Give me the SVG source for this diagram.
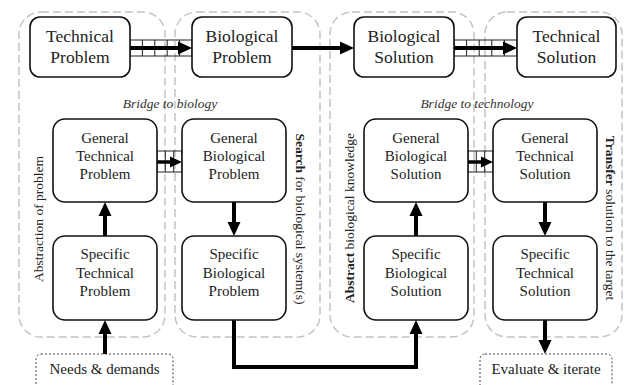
<svg xmlns="http://www.w3.org/2000/svg" width="624" height="385" viewBox="0 0 624 385" font-family="'Liberation Serif','Times New Roman',serif">
<style>
.panel{fill:none;stroke:#c4c4c4;stroke-width:1.5;stroke-dasharray:8 4}
.node{fill:#fff;stroke:#111;stroke-width:1.6}
.io{fill:#fff;stroke:#444;stroke-width:1;stroke-dasharray:2 2}
text{font-family:"Liberation Serif","Times New Roman",serif}
.t{fill:#222;text-anchor:middle}
.big{font-size:17.5px}
.sm{font-size:15px}
.lab{font-size:13.5px;fill:#222;text-anchor:middle}
.it{font-style:italic;fill:#333}
.thick{stroke:#000;stroke-width:4;fill:none}
.mid{stroke:#000;stroke-width:3.5;fill:none}
.ladder{stroke:#222;stroke-width:1;fill:none}
</style>
<defs>
<marker id="ah" markerUnits="userSpaceOnUse" markerWidth="14" markerHeight="14" refX="0" refY="7" orient="auto">
<path d="M0,0.5 L14,7 L0,13.5 z" fill="#000"/>
</marker>
<marker id="as" markerUnits="userSpaceOnUse" markerWidth="12" markerHeight="12" refX="0" refY="6" orient="auto">
<path d="M0,0.5 L12,6 L0,11.5 z" fill="#000"/>
</marker>
</defs>
<rect width="624" height="385" fill="#fff"/>

<g id="panels">
<rect class="panel" x="19" y="12" width="146" height="325" rx="22"/>
<rect class="panel" x="175" y="12" width="145" height="325" rx="22"/>
<rect class="panel" x="330" y="12" width="144" height="325" rx="22"/>
<rect class="panel" x="485" y="12" width="137" height="325" rx="22"/>
</g>

<g id="labels">
<text class="lab it" x="170" y="108">Bridge to biology</text>
<text class="lab it" x="477" y="108">Bridge to technology</text>
<text class="lab" transform="translate(43,219) rotate(-90)">Abstraction of problem</text>
<text class="lab" transform="translate(296,219) rotate(90)"><tspan font-weight="bold">Search</tspan> for biological system(s)</text>
<text class="lab" transform="translate(354,218) rotate(-90)"><tspan font-weight="bold">Abstract</tspan> biological knowledge</text>
<text class="lab" transform="translate(606,218) rotate(90)"><tspan font-weight="bold">Transfer</tspan> solution to the target</text>
</g>

<g id="connectors">
<g id="ladder1" class="ladder">
<path d="M130,40 H192 M130,56 H192 M130,40 V56 M142.4,40 V56 M154.8,40 V56 M167.2,40 V56 M179.6,40 V56 M192,40 V56"/>
</g>
<line class="thick" x1="130" y1="48" x2="178" y2="48" marker-end="url(#ah)"/>
<line class="thick" x1="292" y1="48" x2="340" y2="48" marker-end="url(#ah)"/>
<g id="ladder2" class="ladder">
<path d="M454,40 H517 M454,56 H517 M454,40 V56 M466.6,40 V56 M479.2,40 V56 M491.8,40 V56 M504.4,40 V56 M517,40 V56"/>
</g>
<line class="thick" x1="454" y1="48" x2="503" y2="48" marker-end="url(#ah)"/>
<g id="ladder3" class="ladder">
<path d="M157,151 H182 M157,172 H182 M157,151 V172 M165.3,151 V172 M173.7,151 V172 M182,151 V172"/>
</g>
<line class="mid" x1="157" y1="162" x2="170" y2="162" marker-end="url(#as)"/>
<g id="ladder4" class="ladder">
<path d="M468,151 H493 M468,172 H493 M468,151 V172 M476.3,151 V172 M484.7,151 V172 M493,151 V172"/>
</g>
<line class="mid" x1="468" y1="162" x2="481" y2="162" marker-end="url(#as)"/>
<line class="thick" x1="105" y1="236" x2="105" y2="216" marker-end="url(#ah)"/>
<line class="thick" x1="234" y1="202" x2="234" y2="222" marker-end="url(#ah)"/>
<line class="thick" x1="416" y1="236" x2="416" y2="216" marker-end="url(#ah)"/>
<line class="thick" x1="545" y1="202" x2="545" y2="222" marker-end="url(#ah)"/>
<line class="thick" x1="105" y1="354" x2="105" y2="334" marker-end="url(#ah)"/>
<line class="thick" x1="545" y1="320" x2="545" y2="340" marker-end="url(#ah)"/>
<polyline class="thick" points="234,320 234,367 416,367 416,334" marker-end="url(#ah)"/>
</g>

<g id="technical-problem">
<rect class="node" x="30" y="17" width="100" height="60" rx="10"/>
<text class="t big" x="80" y="42">Technical</text>
<text class="t big" x="80" y="63">Problem</text>
</g>
<g id="biological-problem">
<rect class="node" x="192" y="17" width="100" height="60" rx="10"/>
<text class="t big" x="242" y="42">Biological</text>
<text class="t big" x="242" y="63">Problem</text>
</g>
<g id="biological-solution">
<rect class="node" x="354" y="17" width="100" height="60" rx="10"/>
<text class="t big" x="404" y="42">Biological</text>
<text class="t big" x="404" y="63">Solution</text>
</g>
<g id="technical-solution">
<rect class="node" x="517" y="17" width="99" height="60" rx="10"/>
<text class="t big" x="566.5" y="42">Technical</text>
<text class="t big" x="566.5" y="63">Solution</text>
</g>

<g id="general-technical-problem">
<rect class="node" x="53" y="119" width="104" height="83" rx="12"/>
<text class="t sm" x="105" y="143">General</text>
<text class="t sm" x="105" y="161">Technical</text>
<text class="t sm" x="105" y="179">Problem</text>
</g>
<g id="general-biological-problem">
<rect class="node" x="182" y="119" width="104" height="83" rx="12"/>
<text class="t sm" x="234" y="143">General</text>
<text class="t sm" x="234" y="161">Biological</text>
<text class="t sm" x="234" y="179">Problem</text>
</g>
<g id="general-biological-solution">
<rect class="node" x="364" y="119" width="104" height="83" rx="12"/>
<text class="t sm" x="416" y="143">General</text>
<text class="t sm" x="416" y="161">Biological</text>
<text class="t sm" x="416" y="179">Solution</text>
</g>
<g id="general-technical-solution">
<rect class="node" x="493" y="119" width="104" height="83" rx="12"/>
<text class="t sm" x="545" y="143">General</text>
<text class="t sm" x="545" y="161">Technical</text>
<text class="t sm" x="545" y="179">Solution</text>
</g>

<g id="specific-technical-problem">
<rect class="node" x="53" y="236" width="104" height="84" rx="12"/>
<text class="t sm" x="105" y="259">Specific</text>
<text class="t sm" x="105" y="277.5">Technical</text>
<text class="t sm" x="105" y="296">Problem</text>
</g>
<g id="specific-biological-problem">
<rect class="node" x="182" y="236" width="104" height="84" rx="12"/>
<text class="t sm" x="234" y="259">Specific</text>
<text class="t sm" x="234" y="277.5">Biological</text>
<text class="t sm" x="234" y="296">Problem</text>
</g>
<g id="specific-biological-solution">
<rect class="node" x="364" y="236" width="104" height="84" rx="12"/>
<text class="t sm" x="416" y="259">Specific</text>
<text class="t sm" x="416" y="277.5">Biological</text>
<text class="t sm" x="416" y="296">Solution</text>
</g>
<g id="specific-technical-solution">
<rect class="node" x="493" y="236" width="104" height="84" rx="12"/>
<text class="t sm" x="545" y="259">Specific</text>
<text class="t sm" x="545" y="277.5">Technical</text>
<text class="t sm" x="545" y="296">Solution</text>
</g>

<g id="needs-demands">
<rect class="io" x="36" y="354" width="137" height="40" rx="5"/>
<text class="t sm" x="104.5" y="374">Needs &amp; demands</text>
</g>
<g id="evaluate-iterate">
<rect class="io" x="480" y="354" width="132" height="40" rx="5"/>
<text class="t sm" x="546" y="374">Evaluate &amp; iterate</text>
</g>
</svg>
